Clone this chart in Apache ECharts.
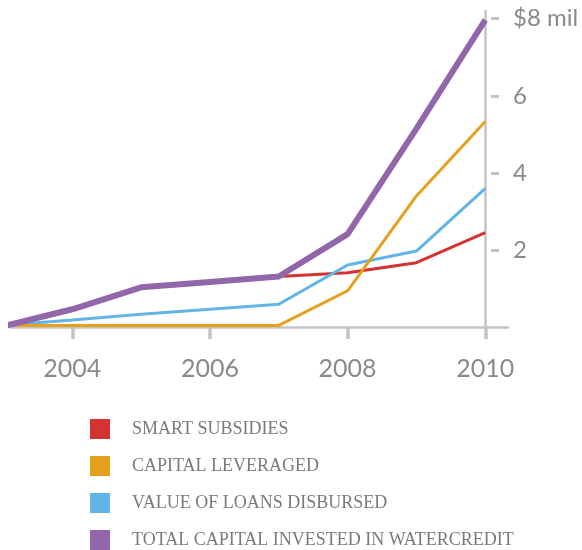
<!DOCTYPE html>
<html>
<head>
<meta charset="utf-8">
<script src="https://cdn.jsdelivr.net/npm/echarts@6/dist/echarts.min.js"></script>
<style>html,body{margin:0;padding:0;background:#fff}#c{width:582px;height:550px}</style>
</head>
<body>
<div id="c"></div>
<script>
var years = [2003, 2004, 2005, 2006, 2007, 2008, 2009, 2010];
var smartSubsidies = [0.02, 0.46, 1.03, 1.17, 1.31, 1.41, 1.67, 2.45];
var capitalLeveraged = [0.04, 0.04, 0.04, 0.04, 0.04, 0.94, 3.40, 5.33];
var loansDisbursed = [0.04, 0.18, 0.33, 0.46, 0.59, 1.61, 1.97, 3.60];
var totalCapital = [0.02, 0.46, 1.03, 1.17, 1.31, 2.41, 5.15, 7.97];
var seriesNames = ['SMART SUBSIDIES', 'CAPITAL LEVERAGED', 'VALUE OF LOANS DISBURSED', 'TOTAL CAPITAL INVESTED IN WATERCREDIT'];
var xTickValues = [2004, 2006, 2008, 2010];
var yTickValues = [2, 4, 6, 8];

function pairs(vals) { return years.map(function (y, i) { return [y, vals[i]]; }); }

var axisGray = '#c4c4c4';
var labelGray = '#8a8a8a';
var xMin = 2003.11, xMax = 2010.33, yMin = 0, yMax = 8.2;

var chart = echarts.init(document.getElementById('c'), null, {renderer: 'canvas'});
chart.setOption({
  animation: false,
  backgroundColor: '#ffffff',
  grid: {left: 11, right: 74, top: 11, bottom: 223, containLabel: false},
  xAxis: [{
    type: 'value', min: xMin, max: xMax, position: 'bottom',
    axisLine: {show: true, onZero: false, lineStyle: {color: axisGray, width: 2.5}},
    axisTick: {show: false},
    splitLine: {show: false},
    axisLabel: {customValues: xTickValues, margin: 29, color: labelGray, fontSize: 25, fontFamily: 'Lato', formatter: function (v) { return String(v); }}
  }, {
    type: 'value', min: xMin, max: xMax, position: 'bottom', offset: 6,
    axisLine: {show: false},
    axisTick: {show: true, customValues: xTickValues, length: 12, lineStyle: {color: axisGray, width: 3.5}},
    axisLabel: {show: false},
    splitLine: {show: false}
  }],
  yAxis: [{
    type: 'value', min: yMin, max: yMax, position: 'right', offset: -23,
    axisLine: {show: true, onZero: false, lineStyle: {color: axisGray, width: 2.5}},
    axisTick: {show: false},
    splitLine: {show: false},
    axisLabel: {customValues: yTickValues, margin: 28, color: labelGray, fontSize: 24, fontFamily: 'Lato',
      formatter: function (v) { return v === 8 ? '$8 mil' : String(v); }}
  }, {
    type: 'value', min: yMin, max: yMax, position: 'right', offset: -17,
    axisLine: {show: false},
    axisTick: {show: true, customValues: yTickValues, length: 8, lineStyle: {color: axisGray, width: 3}},
    axisLabel: {show: false},
    splitLine: {show: false}
  }],
  legend: {
    orient: 'vertical', left: 90, top: 419, height: 200, padding: 0,
    itemWidth: 20, itemHeight: 20, itemGap: 17,
    icon: 'rect',
    data: seriesNames,
    textStyle: {color: '#7a7a7a', fontSize: 18, fontFamily: 'Liberation Serif', padding: [0, 0, 0, 17]}
  },
  series: [
    {name: seriesNames[0], type: 'line', data: pairs(smartSubsidies), showSymbol: false, z: 2,
      lineStyle: {color: '#d33431', width: 3}, itemStyle: {color: '#d33431'}},
    {name: seriesNames[2], type: 'line', data: pairs(loansDisbursed), showSymbol: false, z: 3,
      lineStyle: {color: '#62b4e6', width: 3}, itemStyle: {color: '#62b4e6'}},
    {name: seriesNames[1], type: 'line', data: pairs(capitalLeveraged), showSymbol: false, z: 4,
      lineStyle: {color: '#e5a11d', width: 3}, itemStyle: {color: '#e5a11d'}},
    {name: seriesNames[3], type: 'line', data: pairs(totalCapital), showSymbol: false, z: 5,
      lineStyle: {color: '#9166aa', width: 6}, itemStyle: {color: '#9166aa'}}
  ]
});
</script>
</body>
</html>
